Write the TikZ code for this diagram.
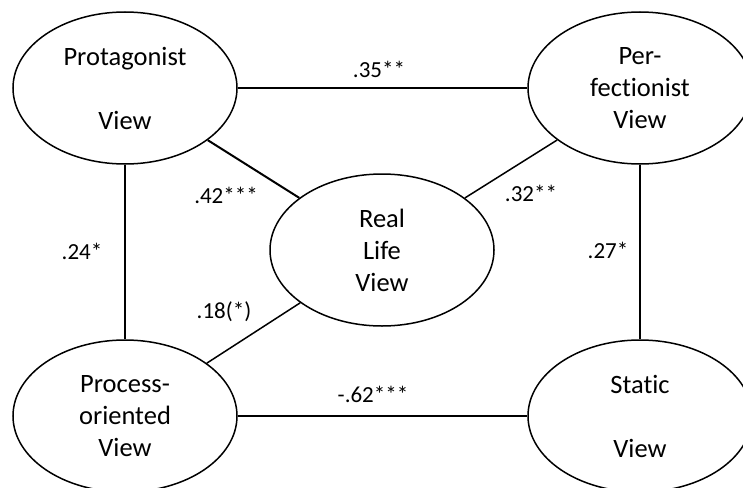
\documentclass[tikz,border=0pt]{standalone}
\usepackage{fontspec}
\setmainfont{Carlito}[Ligatures=NoCommon]
\usetikzlibrary{shapes.geometric}
\begin{document}
\begin{tikzpicture}[x=1pt,y=-1pt,
  view/.style={draw, ellipse, line width=1.5pt, minimum width=224pt, minimum height=152pt, inner sep=0pt, align=center, font=\fontsize{26.5}{32}\selectfont},
  link/.style={line width=1.5pt},
  lab/.style={anchor=base, inner sep=0pt, font=\fontsize{23}{26}\selectfont}]
\useasboundingbox (0,0) rectangle (743,487);
\node[view] (prot) at (125,88) {Protagonist\\[32pt]View};
\node[view] (perf) at (640,88) {Per-\\fectionist\\View};
\node[view] (real) at (382,250) {Real\\Life\\View};
\node[view] (proc) at (125,416) {Process-\\oriented\\View};
\node[view] (stat) at (640,416) {Static\\[32pt]View};
\draw[link] (prot) -- (perf);
\draw[link] (proc) -- (stat);
\draw[link] (prot) -- (proc);
\draw[link] (perf) -- (stat);
\draw[line width=2pt] (prot) -- (real);
\draw[link] (perf) -- (real);
\draw[link] (proc) -- (real);
\node[lab] (l35) at (379,77) {.35**};
\node[lab] (l42) at (226,203) {.42***};
\node[lab] (l32) at (531,201) {.32**};
\node[lab] (l24) at (82,259) {.24*};
\node[lab] (l27) at (608,258) {.27*};
\node[lab] (l18) at (224,318) {.18(*)};
\node[lab] (l62) at (373,402) {-.62***};
\end{tikzpicture}
\end{document}
